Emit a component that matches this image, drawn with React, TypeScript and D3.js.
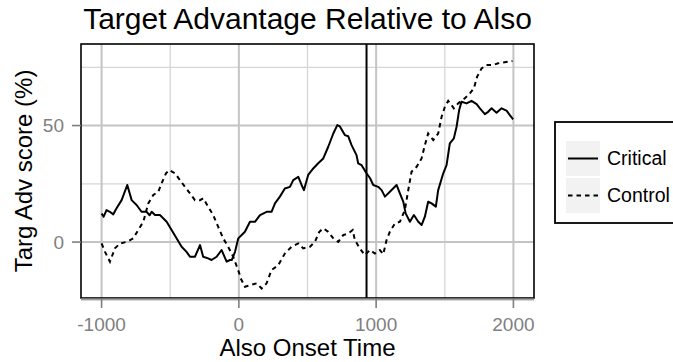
import * as d3 from "d3";

const critTime = [-1000, -985, -964, -940, -915, -891, -854, -813, -781, -745, -709, -672, -650, -635, -611, -575, -526, -490, -454, -417, -381, -356, -320, -283, -260, -224, -199, -162, -126, -89, -65, -52, -28, -4, 44, 81, 117, 154, 202, 238, 263, 299, 335, 372, 396, 433, 457, 474, 505, 542, 578, 615, 651, 688, 717, 736, 772, 797, 821, 857, 869, 894, 930, 955, 979, 1015, 1040, 1064, 1100, 1149, 1173, 1198, 1215, 1246, 1275, 1307, 1331, 1355, 1379, 1404, 1435, 1452, 1489, 1513, 1537, 1566, 1586, 1605, 1622, 1659, 1695, 1732, 1756, 1792, 1816, 1841, 1877, 1914, 1950, 1974, 1998];
const critValue = [12.3, 10.9, 13.7, 13, 11.9, 14.5, 18, 24.5, 18, 15.9, 13, 13, 11.5, 13, 11.6, 11.6, 8.7, 5.2, 1.6, -2, -4.2, -6.3, -6.3, -1.3, -6.3, -7, -7.7, -6.3, -3.4, -8.4, -7.7, -7.7, -4.2, 1.6, 4.4, 8.7, 8.7, 11.6, 13, 13, 16.6, 19.5, 23, 23.7, 26.6, 28, 24.5, 22.3, 28.8, 31.6, 33.8, 35.9, 40.9, 46.6, 50.2, 49.6, 45.9, 45.4, 41.6, 37.3, 33.8, 33, 29.5, 27.5, 24.5, 23.7, 22.3, 19.5, 21.6, 24.5, 20.9, 17.3, 12.3, 8.7, 11.6, 8.7, 7.3, 10.9, 17.3, 16.6, 15.2, 22.3, 29.5, 33, 42.4, 44.5, 49.5, 56.7, 60.2, 59.5, 60.6, 59.2, 57.4, 54.9, 55.9, 57.4, 55.5, 57.4, 56.4, 54.5, 52.7];

const ctrlTime = [-1000, -975, -939, -903, -866, -817, -769, -733, -696, -660, -623, -587, -563, -531, -507, -465, -429, -393, -356, -320, -283, -260, -224, -187, -151, -114, -78, -41, 3, 8, 44, 81, 130, 166, 202, 238, 287, 335, 384, 433, 469, 518, 554, 586, 615, 651, 688, 724, 760, 797, 829, 845, 881, 918, 955, 991, 1027, 1052, 1076, 1100, 1137, 1173, 1209, 1234, 1258, 1295, 1331, 1355, 1379, 1416, 1452, 1477, 1501, 1525, 1549, 1566, 1597, 1646, 1683, 1712, 1736, 1768, 1804, 1853, 1889, 1925, 1961, 1993];
const ctrlValue = [-0.6, -4.2, -8.4, -2.7, -0.6, 0.1, 1.6, 5.2, 8.7, 16.6, 20.2, 21.6, 25.2, 29.5, 30.9, 29.5, 26.6, 23.7, 20.9, 18, 18, 18.8, 15.2, 11.6, 6.6, 1.6, -2, -6.3, -13.4, -14.9, -19.2, -18.5, -17.7, -19.9, -17.7, -12, -9.9, -4.9, -2, -0.6, -2.7, -2, 0.1, 4.4, 5.9, 4.4, 1.6, 0.1, 3, 3.7, 5.2, 0.9, -2.7, -5.6, -3.4, -4.9, -3.4, -5.2, 0.9, 4.4, 8, 8.7, 13.7, 22.3, 30.2, 32.3, 35.9, 41.6, 46.6, 43.8, 46.6, 53.8, 58.1, 60.6, 58.8, 57.4, 59.5, 61.7, 63.8, 66, 71, 74.5, 76, 76, 76.7, 77.1, 77.4, 77.7];

const xTicks = [-1000, 0, 1000, 2000];
const xMinor = [-500, 500, 1500];
const yTicks = [0, 50];
const yMinor = [-25, 25, 75];
const onsetLine = 930;
const seriesNames = ["Critical", "Control"];

const font = "'Liberation Sans', Arial, Helvetica, sans-serif";

export default function App() {
  const left = 81, right = 534, top = 44, bottom = 298;
  const x = d3.scaleLinear().domain([-1150, 2150]).range([left, right]);
  const y = d3.scaleLinear().domain([-24, 85]).range([bottom, top]);

  const line = d3.line<[number, number]>()
    .x(d => x(d[0]))
    .y(d => y(d[1]));

  const crit = critTime.map((t, i) => [t, critValue[i]] as [number, number]);
  const ctrl = ctrlTime.map((t, i) => [t, ctrlValue[i]] as [number, number]);

  const grey = "#7f7f7f";
  const midX = (left + right) / 2;
  const midY = (top + bottom) / 2;

  return (
    <svg width={673} height={362} style={{ position: "absolute", left: 0, top: 0, background: "#fff" }} fontFamily={font}>
      <defs>
        <clipPath id="panel">
          <rect x={left} y={top} width={right - left} height={bottom - top} />
        </clipPath>
      </defs>

      <text x={midX} y={29} fontSize={30} textAnchor="middle" fill="#000">
        Target Advantage Relative to Also
      </text>

      {/* grid */}
      {yMinor.map(v => (
        <line key={"ym" + v} x1={left} x2={right} y1={y(v)} y2={y(v)} stroke="#d6d6d6" strokeWidth={1.3} />
      ))}
      {xMinor.map(v => (
        <line key={"xm" + v} x1={x(v)} x2={x(v)} y1={top} y2={bottom} stroke="#d6d6d6" strokeWidth={1.3} />
      ))}
      {yTicks.map(v => (
        <line key={"yg" + v} x1={left} x2={right} y1={y(v)} y2={y(v)} stroke="#c4c4c4" strokeWidth={2} />
      ))}
      {xTicks.map(v => (
        <line key={"xg" + v} x1={x(v)} x2={x(v)} y1={top} y2={bottom} stroke="#c4c4c4" strokeWidth={2} />
      ))}

      <g clipPath="url(#panel)">
        <path d={line(crit) || ""} fill="none" stroke="#000" strokeWidth={2} strokeLinejoin="round" />
        <path d={line(ctrl) || ""} fill="none" stroke="#000" strokeWidth={2} strokeDasharray="4.5,4" />
        <line x1={x(onsetLine)} x2={x(onsetLine)} y1={top} y2={bottom} stroke="#000" strokeWidth={2} />
      </g>

      <rect x={left} y={top} width={right - left} height={bottom - top} fill="none" stroke="#000" strokeWidth={1.6} />
      <line x1={left} x2={right} y1={bottom + 1} y2={bottom + 1} stroke={grey} strokeWidth={1.5} />

      {/* x axis */}
      {xTicks.map(v => (
        <g key={"xt" + v}>
          <line x1={x(v)} x2={x(v)} y1={bottom + 1} y2={bottom + 10} stroke={grey} strokeWidth={1.6} />
          <text x={x(v)} y={331} fontSize={19} textAnchor="middle" fill={grey}>{v}</text>
        </g>
      ))}
      <text x={midX} y={356} fontSize={24} textAnchor="middle" fill="#000">Also Onset Time</text>

      {/* y axis */}
      {yTicks.map(v => (
        <g key={"yt" + v}>
          <line x1={left - 9} x2={left} y1={y(v)} y2={y(v)} stroke={grey} strokeWidth={1.6} />
          <text x={64} y={y(v)} dy="0.35em" fontSize={19} textAnchor="end" fill={grey}>{v}</text>
        </g>
      ))}
      <text transform={`translate(32,${midY}) rotate(-90)`} fontSize={24} textAnchor="middle" fill="#000">
        Targ Adv score (%)
      </text>

      {/* legend */}
      <rect x={555} y={122} width={160} height={101} fill="#fff" stroke="#000" strokeWidth={1.8} />
      {seriesNames.map((name, i) => {
        const ky = 141 + i * 37;
        return (
          <g key={name}>
            <rect x={566} y={ky} width={34} height={35} fill="#f2f2f2" />
            <line x1={568} x2={598} y1={ky + 17.5} y2={ky + 17.5} stroke="#000" strokeWidth={2}
              strokeDasharray={i === 1 ? "4.5,4" : undefined} />
            <text x={607} y={ky + 17.5} dy="0.35em" fontSize={19.5} fill="#000">{name}</text>
          </g>
        );
      })}
    </svg>
  );
}
